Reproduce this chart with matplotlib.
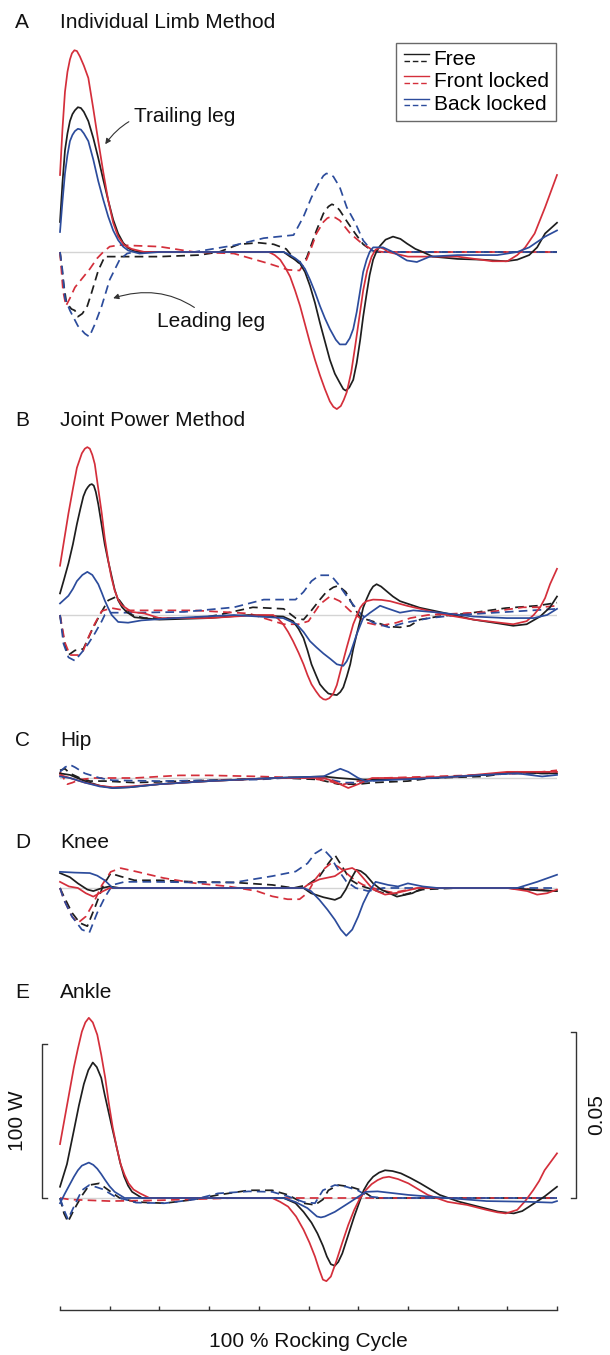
import matplotlib
matplotlib.use("Agg")
import matplotlib.pyplot as plt
from matplotlib.legend_handler import HandlerBase
from matplotlib.lines import Line2D
import numpy as np

plt.rcParams['font.family'] = ['Liberation Sans', 'DejaVu Sans']

# power (W) against % of rocking cycle
# trailing leg = solid, leading leg = dashed

# A  individual limb method
A_FREE_TRAIL = [(0, 19.5), (0.5, 45), (1, 66), (1.5, 77), (2, 85), (2.5, 89.5), (3, 92), (3.6, 94), (4.2, 93.5),
                (4.8, 91), (5.7, 85), (6.7, 74), (7.7, 61), (8.7, 47), (9.7, 33.5), (10.7, 21), (11.7, 12),
                (12.7, 6), (13.7, 2.5), (15, 0.5), (16, 0), (45, 0), (46.3, -3), (47.3, -5), (48.3, -7.5),
                (49.3, -13), (50.3, -22), (51.3, -33), (52.3, -46), (53.3, -58), (54.3, -70), (55.3, -79),
                (56.3, -85), (57, -89), (57.5, -90), (58.2, -88), (59, -83), (59.7, -72), (60.4, -57), (61, -42),
                (61.7, -27), (62.3, -15), (63, -5), (63.7, 0.5), (64.4, 4), (65.5, 8), (67, 10), (68.5, 8.5),
                (69.8, 5.5), (71.5, 2), (73, 0), (75, -3), (80, -4.5), (85, -5), (89.7, -6), (92, -5),
                (94.4, -2), (96, 3), (97.6, 12), (100, 19)]
A_FRONT_TRAIL = [(0, 50), (0.5, 80), (1, 104), (1.5, 117), (2, 125), (2.4, 129), (2.9, 131), (3.4, 130.5),
                 (4, 127), (4.8, 121), (5.7, 113), (6.7, 93), (7.7, 72), (8.7, 52), (9.7, 33.5), (10.7, 19),
                 (11.7, 10), (12.9, 4.5), (14.4, 2), (17, 0), (42, 0), (43.2, -2), (44.3, -5), (45.3, -10),
                 (46.3, -16), (47.3, -25), (48.3, -35), (49.3, -47), (50.3, -59), (51.3, -70), (52.3, -80),
                 (53.3, -89), (54.3, -97), (55, -100.5), (55.7, -102), (56.5, -100), (57.1, -96), (57.7, -91),
                 (58.6, -78), (59.4, -61), (60.2, -43), (61, -25), (61.8, -12), (62.7, -3), (63.5, 1.5),
                 (64.4, 3), (65.2, 2), (66, 0), (70, -3), (80, -3), (87, -6), (90, -6), (92, -2), (93.6, 3),
                 (95.5, 12), (97.6, 29), (100, 50)]
A_BACK_TRAIL = [(0, 13), (0.5, 33), (1, 51), (1.5, 63), (2, 72), (2.5, 76), (3, 78.5), (3.6, 80), (4.2, 79.5),
                (4.8, 77), (5.7, 72), (6.7, 60), (7.7, 46), (8.7, 34), (9.7, 23), (10.7, 14), (11.7, 7.7),
                (12.7, 3.5), (13.7, 1), (16, -1), (20, 0), (45, 0), (46.3, -2), (47.3, -4), (48.3, -6.5),
                (49.3, -11), (50.3, -18), (51.3, -26), (52.3, -35), (53.3, -43), (54.3, -50), (55.5, -57),
                (56.3, -60), (57.5, -60), (58.3, -56), (59, -50), (59.7, -39), (60.4, -25), (61, -13),
                (61.7, -5), (62.3, 0), (63, 3), (65, 3), (67, 0), (69.8, -5.5), (71.8, -6.5), (74.4, -3),
                (80, -2), (88, -2), (92, 0), (94.4, 3), (97.6, 10), (100, 14)]
A_FREE_LEAD = [(0, 0), (0.7, -20), (1.3, -33), (2.3, -37), (3, -38), (3.6, -42), (4.5, -40), (5.5, -35),
               (6.3, -27), (7.7, -12), (9, -3), (12, -3), (20, -3), (28, -2), (32, 0), (36, 5), (40, 6), (43, 5),
               (45.5, 2), (47, -4), (48, -7), (49.6, -4), (50.6, 5), (51.6, 14), (53, 25), (54, 29.5),
               (54.7, 31), (55.5, 30), (56.3, 27), (57.7, 20), (59.4, 12), (61, 5), (62.7, 1), (64, 0), (100, 0)]
A_FRONT_LEAD = [(0, 0), (0.6, -25), (1.2, -35), (2, -30), (3, -23), (4.5, -17), (6, -11), (7.5, -4), (8.7, 0),
                (10, 3.5), (12, 4.5), (20, 3.5), (27, 0), (35, -1), (42, -7.5), (45.9, -11.6), (48.2, -12),
                (49.6, -5), (50.6, 3), (51.6, 12), (53, 19.5), (53.8, 22), (54.6, 23), (55.4, 22.3),
                (56.3, 20.5), (58.4, 12), (60.4, 6.5), (63, 1), (65, 0), (100, 0)]
A_BACK_LEAD = [(0, 0), (0.5, -12), (1, -30), (2, -38), (3.6, -48), (5, -53), (5.9, -55), (7, -47), (8.4, -35),
               (10, -18), (12, -5), (13.5, -1), (15, 0), (27, 0), (35, 4.3), (41, 9), (47, 11), (49, 23),
               (50.6, 35.5), (52.3, 46), (53, 49.5), (53.6, 51), (54.3, 50.5), (55, 49), (56.3, 42), (57.7, 29),
               (59.4, 19), (61, 7.5), (62.7, 1), (64, 0), (100, 0)]

# B  joint power method
B_FREE_TRAIL = [(0, 14), (0.8, 23), (1.7, 33.5), (2.6, 46), (3.4, 59), (4.1, 69), (4.7, 77), (5.2, 81),
                (5.6, 83), (6, 84.5), (6.4, 85), (6.8, 84), (7.2, 80), (7.7, 72), (8.3, 60), (9, 46),
                (9.7, 35), (10.4, 25), (11, 16.5), (11.7, 9.5), (12.5, 5), (13.4, 2), (15, -1.5), (20, -3),
                (30, -2), (38, 0), (44.9, -1), (46.9, -4), (48, -9), (49, -15), (49.8, -23), (50.6, -32),
                (51.5, -39), (52.3, -45), (53.2, -48.5), (54, -51), (55, -51.7), (55.7, -52), (56.4, -50),
                (57, -47), (57.7, -40), (58.4, -32), (59, -22), (59.7, -12.5), (60.4, -3.5), (61, 4.7),
                (61.7, 10.5), (62.4, 15.5), (63, 18.5), (63.7, 20), (64.6, 18.5), (65.7, 15.5), (67, 12),
                (68.4, 9), (72.4, 4.7), (77.8, 1), (83.2, -3), (88.5, -5.6), (91.2, -7), (93.9, -6), (96.6, -1),
                (98.6, 5), (100, 12)]
B_FRONT_TRAIL = [(0, 32), (0.8, 48), (1.7, 66), (2.6, 82), (3.4, 95.6), (4.4, 105), (5, 108), (5.5, 109),
                 (6, 108), (6.5, 104), (7, 98), (7.7, 82), (8.4, 66), (9, 50), (9.7, 35.5), (10.3, 25), (11, 16),
                 (11.7, 10), (12.4, 6.5), (14.4, 2), (17, 1), (20, -2), (30, -2), (40, 0), (42.9, 0),
                 (43.9, -2.5), (44.9, -6), (45.9, -11), (46.9, -17), (48, -24.5), (49, -32), (49.8, -39),
                 (50.6, -45), (51.5, -49.5), (52.3, -53), (53, -54.7), (53.5, -55), (54.2, -54), (55, -51),
                 (55.7, -45.5), (56.3, -38), (57, -29.5), (57.7, -21), (58.4, -13), (59, -6), (59.7, -0.5),
                 (60.4, 4.7), (61, 7.3), (61.7, 9), (63, 10), (64.7, 9.8), (66.4, 9), (69.8, 6), (73.8, 3),
                 (77.8, 0), (83.2, -3), (88.5, -5), (91.2, -6), (93.9, -4), (95.3, 0), (96.6, 5), (97.6, 11),
                 (98.6, 20), (100, 30)]
B_BACK_TRAIL = [(0, 7.5), (1.7, 12.5), (2.6, 17), (3.4, 22), (4.5, 26), (5.5, 28), (6.5, 26), (7.7, 20),
                (8.4, 14.5), (9, 9.5), (9.7, 4.5), (10.4, 0), (11.7, -4.5), (13.7, -5), (16.4, -3.5), (23, -2),
                (35, 0), (44.9, -2), (47.6, -6), (49, -11), (50.3, -17), (51.6, -21), (53, -25), (54.4, -28.5),
                (55.7, -32), (57, -33), (57.7, -30), (58.4, -25), (59.7, -12.5), (61, -2), (62.4, 1.5),
                (64.4, 6), (65.7, 4.5), (68.4, 1.5), (71.1, 3), (76.5, 1.5), (83.2, -1), (89.9, -2), (95.3, -2),
                (98, 0), (100, 4)]
B_FREE_LEAD = [(0, 0), (0.7, -14.6), (1.3, -23), (1.7, -26), (3, -23), (4.7, -22), (6.4, -10), (8, 0), (9.7, 9.5),
               (11.4, 12), (13, 5), (14.5, 0), (17, -2), (25, -2), (30, -1), (31.8, 0), (38.8, 5), (45, 4),
               (47.4, -2), (49, -3), (50.6, 3), (52.3, 10), (53.6, 15), (55, 18), (56, 19), (57.5, 15), (59, 6),
               (60.4, -1.7), (62.3, -3.5), (66.2, -7.5), (68.4, -8), (70.4, -7), (72.4, -3), (76, -1), (82, 1),
               (89.7, 4.5), (96, 6), (100, 8)]
B_FRONT_LEAD = [(0, 0), (1, -18), (2, -26), (3.7, -26), (4.7, -23), (5.7, -14.6), (7, -5.6), (8.4, 2.6),
                (10.4, 4.5), (13, 3), (27, 3), (38, 1), (41, -2), (45, -6), (48, -6), (50, -4), (52.3, 7),
                (54.3, 12), (56.3, 9), (58.4, 2.6), (61.7, -5), (64.4, -7), (67.7, -5), (70.5, -2), (74, 0),
                (86.5, 2), (93.2, 5), (96.6, 5), (100, 6)]
B_BACK_LEAD = [(0, 0), (0.7, -18.6), (1.7, -27.5), (3, -29.7), (4.7, -23), (5.7, -18.6), (7, -12), (8.4, -4),
               (9, 0), (10, 1.5), (15, 1.5), (25, 2), (35, 5), (41, 10), (47.4, 10), (49, 15), (50.6, 22),
               (52.2, 25.8), (54.5, 25.8), (56, 20), (58.4, 9), (60.7, 0), (63, -5), (66.2, -8), (69.4, -5),
               (74.4, -2), (80, 0), (90, 2), (95, 3), (100, 4)]

# C  hip
C_FREE_TRAIL = [(0, 3), (2, 2), (5, -2), (8, -5), (10.6, -6.5), (14, -6), (20, -4), (30, -2), (43, 0), (53, 1),
                (56, 0), (60, -1), (65, -1), (75, 0), (85, 2), (92, 4), (97, 3), (100, 3)]
C_FRONT_TRAIL = [(0, 2), (2, 0), (5, -3), (8, -5), (10.6, -6), (14, -5.5), (20, -4), (30, -2), (43, 0), (53, 0),
                 (55, -2), (58, -6.5), (60, -4), (62.8, 0), (70, 0), (80, 1), (90, 4), (97, 4), (100, 4)]
C_BACK_TRAIL = [(0, 1), (2, 0), (5, -3), (8, -5.5), (10.6, -6.5), (14, -6), (20, -4), (30, -2), (43, 0), (53, 1),
                (55, 4), (56.4, 6), (58, 4), (60, 0), (61.5, -2), (65, -1.5), (75, 0), (85, 2), (92, 3), (97, 1),
                (100, 2)]
C_FREE_LEAD = [(0, 5), (1, 6), (2, 3), (4, 0), (6, -2), (9, -2), (15, -3), (25, -2), (35, -1), (45, 0), (52, -1),
               (56, -4), (60, -4), (63, -3), (70, -2), (75, 0), (85, 1), (90, 3), (95, 3), (100, 4)]
C_FRONT_LEAD = [(0, 4), (0.7, 0), (1.5, -4), (2.5, -3), (4, -1), (7, 0), (15, 0), (24, 1.7), (30, 1.7), (40, 1),
                (50, 0), (54, -2), (56.8, -4.3), (60, -2), (65, 0), (75, 1), (85, 2), (92, 3), (97, 4), (100, 5)]
C_BACK_LEAD = [(0, 4), (1, 7), (2, 8.6), (3, 7), (5, 3), (8, 0), (10.6, -1.5), (20, -2), (30, -1.5), (40, -1),
               (45, 0), (53, 0), (57, -3), (60, -3), (65, -1), (75, 0), (85, 2), (92, 3), (100, 3)]

# D  knee
D_FREE_TRAIL = [(0, 9.7), (2, 7), (3.6, 3), (5.5, -1), (6.7, -2), (8.5, 0), (10, 1), (12, 0), (49, 0),
                (50.5, -3.4), (53, -6), (55.3, -7.7), (56.5, -6), (57.5, -1), (58.4, 5), (59.6, 11.8), (60.5, 11),
                (61.5, 8.6), (63, 3), (64.6, -1), (67.8, -5.6), (70.9, -3.4), (73, 0), (90, 0), (96, -1.5),
                (100, -2)]
D_FRONT_TRAIL = [(0, 4), (1.8, 1), (3.6, 0), (5.2, -3.4), (6.7, -5.6), (8.7, -2), (10, 0), (49, 0), (49.8, 2),
                 (52.2, 5.6), (55.3, 7.7), (57.2, 11.8), (58.8, 13), (59.8, 11), (60.7, 7.7), (63, -1),
                 (65.4, -4.3), (68, -3), (72, 0), (90, 0), (94, -2), (96, -4.3), (98, -3.4), (100, -1)]
D_BACK_TRAIL = [(0, 10.5), (3, 10), (6, 9.7), (7.5, 8), (9, 5), (10.6, 0), (49, 0), (50.5, -2), (52.2, -7.7),
                (53.8, -14), (55.3, -20.6), (56.5, -27), (57.6, -31), (58.8, -27), (60, -18.5), (61, -10),
                (62, -3.4), (63.5, 4), (66, 2), (68, 1), (70, 3), (73, 1), (76, 0), (92, 0), (96, 4), (100, 8.6)]
D_FREE_LEAD = [(0, 0), (0.8, -5.6), (2.4, -16), (4, -22.7), (5.5, -24.8), (7.1, -12), (8.7, 1.7), (10.2, 9.5),
               (12.2, 7.5), (15, 5), (20, 5), (27, 4), (35, 3.6), (42.7, 2), (47, 0), (49.8, 2), (52.2, 7.5),
               (54, 16), (55.3, 21.5), (56.8, 13.8), (58.4, 5.4), (60.3, 1.7), (64.8, -3), (69.3, -4.3),
               (73, -1), (80, 0), (90, 0), (100, -2)]
D_FRONT_LEAD = [(0, 0), (0.8, -7.7), (2.4, -18.5), (3.6, -22.7), (5.2, -18.5), (6.7, -10), (8.4, 1.7),
                (10.2, 10.5), (12.2, 12.9), (15.3, 10.7), (20.8, 6.5), (27, 3.2), (34, 1), (39.6, -2),
                (42.7, -5.4), (45.8, -7.3), (48.2, -7.3), (49.8, -3.2), (51.3, 5.4), (52.9, 11.8), (54.5, 16),
                (56, 13.8), (57.6, 9.7), (59.2, 5.4), (61, 2), (64, -1), (67, -3), (72, 0), (90, 0), (100, -2)]
D_BACK_LEAD = [(0, 0), (0.8, -7.7), (2.4, -18.5), (4.4, -27), (5.9, -29), (7.5, -16), (9.1, -5.6), (10.6, 2),
               (13, 4), (19.2, 4), (27, 3.6), (35, 3.6), (42.7, 7.7), (47.4, 10.7), (49.8, 16), (51.3, 22.4),
               (52.9, 25.6), (54.5, 20), (56, 11.6), (57.6, 4.3), (59.5, 0), (62, -2), (65, 0), (100, 0)]

# E  ankle
E_FREE_TRAIL = [(0, 7.3), (1.4, 22), (2.8, 44), (3.8, 60), (4.8, 74), (5.7, 83), (6.6, 88), (7.4, 85),
                (8.3, 78), (9, 67), (9.8, 55.5), (10.6, 44), (11.4, 33), (12.1, 23), (12.9, 14), (13.7, 8),
                (14.5, 4), (16.5, 0), (45, 0), (47.4, -3.4), (49, -9), (50.6, -16), (51.8, -23), (52.9, -31),
                (53.7, -38), (54.5, -43), (55.3, -44), (56, -41.5), (56.8, -36), (58, -24), (59.2, -12),
                (60.2, -3), (61.1, 5), (62, 10), (63, 13.8), (64.2, 16.5), (65.4, 18), (66.9, 17.5), (68.6, 16),
                (70.5, 13), (72.5, 9.5), (76.4, 2), (80.3, -2.4), (84.2, -5.6), (88.1, -8.8), (91.3, -10),
                (93, -8.5), (94.4, -5.6), (97.5, 1), (100, 7.3)]
E_FRONT_TRAIL = [(0, 35), (1.4, 60), (2.8, 85), (3.6, 97), (4.4, 108), (5.1, 114), (5.8, 117), (6.6, 114),
                 (7.5, 106), (8.3, 93), (9.1, 78), (9.8, 62), (10.6, 46), (11.4, 33), (12.2, 22), (13, 15),
                 (13.8, 9.5), (14.8, 5.5), (16.1, 3), (18, 0), (42.7, 0), (44.3, -2.5), (45.9, -5.6),
                 (47.5, -12), (49, -20.6), (50.2, -29), (51.3, -38), (52.1, -46), (52.9, -53), (53.6, -54),
                 (54.5, -51), (55.6, -41), (56.8, -29), (58, -17.5), (59.2, -7.7), (60.3, -0.5), (61.5, 5),
                 (62.7, 9), (63.9, 11.6), (65, 13.2), (66.2, 13.8), (68, 12.3), (70.1, 9.5), (74, 2), (78, -2.5),
                 (81.9, -4.5), (85.8, -7.7), (88, -9.3), (89.7, -10), (92, -7.7), (93.6, -2), (95.2, 5),
                 (96.4, 11), (97.5, 18), (100, 29)]
E_BACK_TRAIL = [(0, -3.4), (1, 3), (2, 9), (2.8, 13.8), (3.6, 18), (4.4, 21), (5.8, 23), (6.7, 21.5), (7.5, 19),
                (8.3, 15.5), (9.1, 11.6), (10, 7.5), (11, 4), (13, 0), (45, 0), (47.4, -2.6), (49.8, -6.6),
                (51.7, -12), (52.5, -12.6), (53.3, -12), (55.3, -9), (58.4, -2.6), (61.5, 4), (63.9, 4.3),
                (70.1, 2), (78, 0), (85.8, -2), (93.6, -2.4), (99, -3), (100, -2)]
E_FREE_LEAD = [(0, 0), (0.8, -10), (1.6, -15.5), (2.8, -7.7), (4.4, 1.5), (5.9, 8.4), (7.9, 9.5), (9.8, 5),
               (12, 0), (15.3, -2.6), (21, -3.4), (27, -1), (31.8, 2), (38, 5), (42.7, 5), (45.9, 2), (49, -3.4),
               (51.3, -4.5), (52.9, -1), (54, 5), (56, 8.4), (58.4, 7.3), (60.7, 5), (63, 0), (100, 0)]
E_FRONT_LEAD = [(0, 0), (2, -1), (10, -2), (20, -1.5), (35, 0), (100, 0)]
E_BACK_LEAD = [(0, 0), (0.8, -7.7), (1.6, -13.8), (2.8, -5.6), (4.4, 5), (5.9, 8.4), (7.1, 7.3), (8.7, 5.6),
               (11, 1), (15.3, -3), (21, -3.4), (27, -1), (31.8, 3), (38, 4.3), (42.7, 4), (45.9, 1), (49, -2.6),
               (51.3, -3.4), (52.9, 5), (55.3, 8.4), (57.6, 7.3), (59.9, 5), (62, 1), (65, 0), (100, 0)]

CONDITIONS = ['Free', 'Front locked', 'Back locked']
COLORS = ['#1e1e1e', '#d42f3b', '#2c4c9c']

PANELS = [
    ('A', 'Individual Limb Method', [A_FREE_TRAIL, A_FRONT_TRAIL, A_BACK_TRAIL], [A_FREE_LEAD, A_FRONT_LEAD, A_BACK_LEAD]),
    ('B', 'Joint Power Method', [B_FREE_TRAIL, B_FRONT_TRAIL, B_BACK_TRAIL], [B_FREE_LEAD, B_FRONT_LEAD, B_BACK_LEAD]),
    ('C', 'Hip', [C_FREE_TRAIL, C_FRONT_TRAIL, C_BACK_TRAIL], [C_FREE_LEAD, C_FRONT_LEAD, C_BACK_LEAD]),
    ('D', 'Knee', [D_FREE_TRAIL, D_FRONT_TRAIL, D_BACK_TRAIL], [D_FREE_LEAD, D_FRONT_LEAD, D_BACK_LEAD]),
    ('E', 'Ankle', [E_FREE_TRAIL, E_FRONT_TRAIL, E_BACK_TRAIL], [E_FREE_LEAD, E_FRONT_LEAD, E_BACK_LEAD]),
]

# layout in pixels: (axes top, axes bottom, zero line, title y)
LAYOUT = [(40, 415, 252, 23), (435, 705, 615, 421), (755, 800, 778, 740),
          (835, 945, 888, 843), (1005, 1310, 1198, 993)]

W, H = 610, 1355
PX_PER_W = 1.54      # 100 W scale bar ~154 px tall
X0, X1 = 60, 557
FS = 15

fig = plt.figure(figsize=(W / 100, H / 100), dpi=100)
dash = (0, (5, 3))


def as_xy(pts):
    a = np.array(pts, dtype=float)
    return a[:, 0], a[:, 1]


axes = []
for (letter, title, trail, lead), (top, bot, zero, ty) in zip(PANELS, LAYOUT):
    ax = fig.add_axes([X0 / W, 1 - bot / H, (X1 - X0) / W, (bot - top) / H])
    ax.set_xlim(0, 100)
    ax.set_ylim(-(bot - zero) / PX_PER_W, (zero - top) / PX_PER_W)
    ax.axhline(0, color='#d4d4d4', lw=1.0, zorder=0)
    for pts, c in zip(lead, COLORS):
        x, y = as_xy(pts)
        ax.plot(x, y, color=c, lw=1.25, ls=dash, clip_on=False, solid_joinstyle='round')
    for pts, c in zip(trail, COLORS):
        x, y = as_xy(pts)
        ax.plot(x, y, color=c, lw=1.25, clip_on=False, solid_joinstyle='round')
    for s in ax.spines.values():
        s.set_visible(False)
    ax.set_xticks([])
    ax.set_yticks([])
    fig.text(15 / W, 1 - ty / H, letter, fontsize=FS, va='center', ha='left', color='#111')
    fig.text(X0 / W, 1 - ty / H, title, fontsize=FS, va='center', ha='left', color='#111')
    axes.append(ax)

ax_a, ax_e = axes[0], axes[-1]

# shared time axis under panel E
ax_e.spines['bottom'].set_visible(True)
ax_e.spines['bottom'].set_color('#333')
ax_e.spines['bottom'].set_linewidth(1.0)
ax_e.set_xticks(np.arange(0, 101, 10))
ax_e.set_xticklabels([])
ax_e.tick_params(axis='x', direction='in', length=3, width=1.0, color='#333')
ax_e.set_xlabel('100 % Rocking Cycle', fontsize=FS, labelpad=12, color='#111')

# scale bars
sb_col = '#333'
ax_e.plot([-2.6, -3.6, -3.6, -2.6], [0, 0, 100, 100], color=sb_col, lw=1.0, clip_on=False)
ax_e.text(-8.6, 50, '100 W', rotation=90, fontsize=FS, ha='center', va='center', color='#111')
RIGHT_BAR = 108      # height of the 0.05 bar in panel units
ax_e.plot([102.8, 103.8, 103.8, 102.8], [0, 0, RIGHT_BAR, RIGHT_BAR], color=sb_col, lw=1.0, clip_on=False)
ax_e.text(108, RIGHT_BAR / 2, '0.05', rotation=90, fontsize=FS, ha='center', va='center', color='#111')

# annotations in A
ax_a.annotate('Trailing leg', xy=(9.1, 70), xytext=(14.9, 88), fontsize=FS, va='center', ha='left',
              color='#111',
              arrowprops=dict(arrowstyle='-|>', color='#333', lw=0.8, mutation_scale=8,
                              connectionstyle='arc3,rad=0.35', shrinkA=2, shrinkB=0))
ax_a.annotate('Leading leg', xy=(10.7, -30), xytext=(19.6, -45), fontsize=FS, va='center', ha='left',
              color='#111',
              arrowprops=dict(arrowstyle='-|>', color='#333', lw=0.8, mutation_scale=8,
                              connectionstyle='arc3,rad=0.3', shrinkA=2, shrinkB=0))


# legend: solid line over dashed line for each condition
class SolidOverDashed(HandlerBase):
    def create_artists(self, legend, orig_handle, xdescent, ydescent, width, height, fontsize, trans):
        c = orig_handle.get_color()
        x = [-xdescent, width - xdescent]
        top = Line2D(x, [0.75 * height - ydescent] * 2, color=c, lw=1.0, transform=trans)
        bottom = Line2D(x, [0.3 * height - ydescent] * 2, color=c, lw=1.0, ls=(0, (4, 2)), transform=trans)
        return [top, bottom]


handles = [Line2D([], [], color=c) for c in COLORS]
leg = fig.legend(handles, CONDITIONS, loc='upper right', bbox_to_anchor=(556 / W, 1 - 43 / H),
                 bbox_transform=fig.transFigure, fontsize=FS, frameon=True, fancybox=False,
                 handler_map={Line2D: SolidOverDashed()}, handlelength=1.2, handletextpad=0.25,
                 labelspacing=0.15, borderpad=0.35, borderaxespad=0)
leg.get_frame().set_edgecolor('#444')
leg.get_frame().set_linewidth(1.0)

fig.savefig('out.png', dpi=100)
